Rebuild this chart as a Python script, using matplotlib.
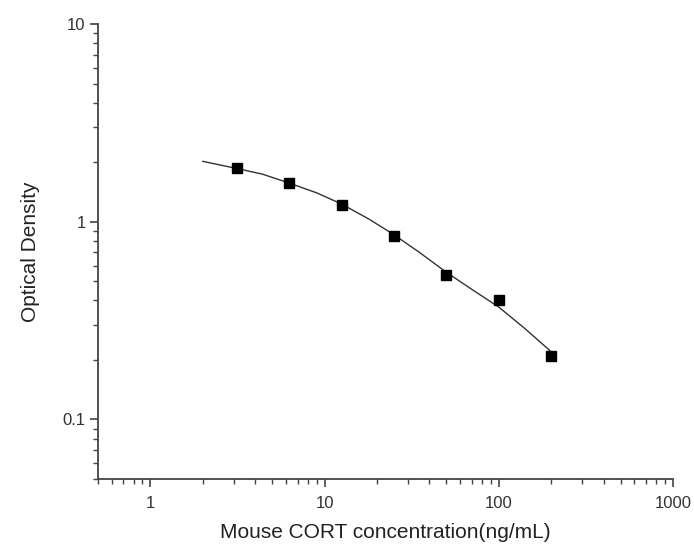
import numpy as np
import matplotlib.pyplot as plt
from matplotlib.ticker import LogLocator, NullFormatter, FixedLocator, FixedFormatter

plt.rcParams['font.family'] = ['Liberation Sans', 'DejaVu Sans']

# Standards (ng/mL) and measured optical density
conc = [3.125, 6.25, 12.5, 25, 50, 100, 200]
od = [1.86, 1.57, 1.21, 0.85, 0.54, 0.40, 0.21]

# Fitted curve
curve_x = [2.0, 3.125, 4.4, 6.25, 9.0, 12.5, 18, 25, 35, 50, 70, 100, 140, 200]
curve_y = [2.02, 1.86, 1.74, 1.57, 1.40, 1.23, 1.03, 0.86, 0.70, 0.555, 0.455, 0.37, 0.29, 0.22]

fig = plt.figure(figsize=(6.94, 5.51), dpi=100)
ax = fig.add_axes([98 / 694, 1 - 479 / 551, (673 - 98) / 694, (479 - 24) / 551])

ax.plot(curve_x, curve_y, color='#333333', lw=1.0)
ax.plot(conc, od, ls='none', marker='s', ms=6.5, color='black')

ax.set_xscale('log')
ax.set_yscale('log')
ax.set_xlim(0.5, 1000)
ax.set_ylim(0.05, 10)

ax.xaxis.set_major_locator(FixedLocator([1, 10, 100, 1000]))
ax.xaxis.set_major_formatter(FixedFormatter(['1', '10', '100', '1000']))
ax.yaxis.set_major_locator(FixedLocator([0.1, 1, 10]))
ax.yaxis.set_major_formatter(FixedFormatter(['0.1', '1', '10']))
ax.xaxis.set_minor_locator(LogLocator(base=10, subs=np.arange(2, 10)))
ax.yaxis.set_minor_locator(LogLocator(base=10, subs=np.arange(2, 10)))
ax.xaxis.set_minor_formatter(NullFormatter())
ax.yaxis.set_minor_formatter(NullFormatter())

for s in ['top', 'right']:
    ax.spines[s].set_visible(False)
for s in ['left', 'bottom']:
    ax.spines[s].set_linewidth(1.3)
    ax.spines[s].set_color('#444444')

ax.tick_params(which='major', direction='out', length=6, width=1.2, color='#444444',
               labelsize=12, labelcolor='#333333')
ax.tick_params(axis='x', which='major', pad=6)
ax.tick_params(axis='y', which='major', pad=3)
ax.tick_params(which='minor', direction='out', length=3.5, width=1.0, color='#444444')

ax.set_xlabel('Mouse CORT concentration(ng/mL)', fontsize=15, color='#222222', labelpad=9)
ax.set_ylabel('Optical Density', fontsize=15, color='#222222', labelpad=16)

fig.savefig('out.png', dpi=100)
